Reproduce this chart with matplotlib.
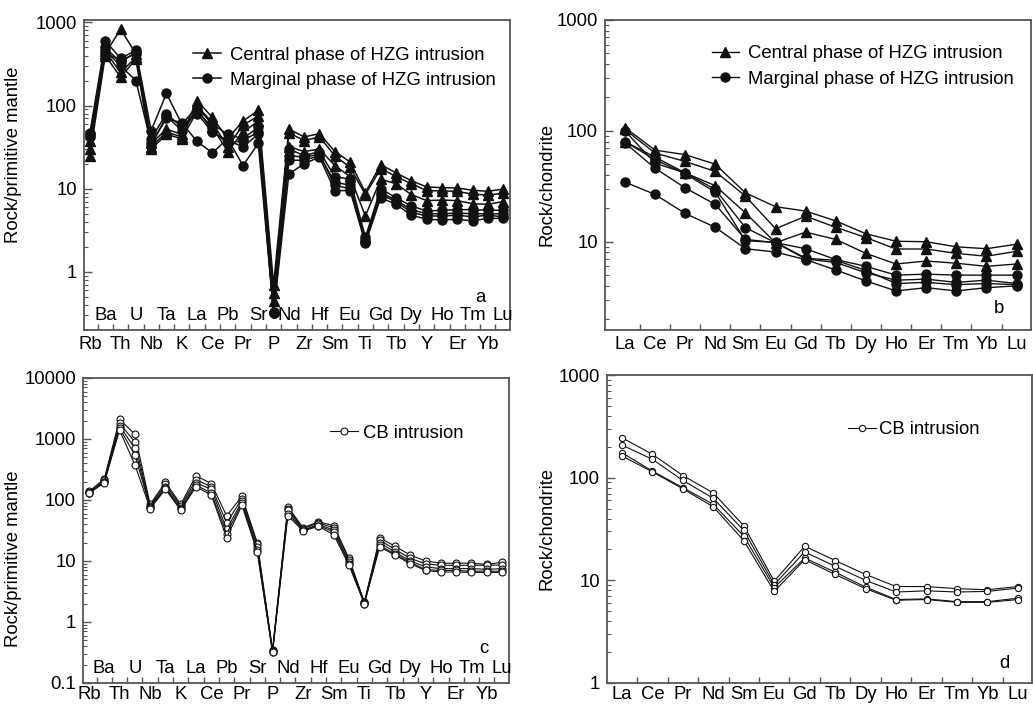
import matplotlib
matplotlib.use("Agg")
import matplotlib.pyplot as plt
from matplotlib.ticker import FixedLocator, NullFormatter, LogLocator

plt.rcParams['font.family'] = ['Liberation Sans', 'DejaVu Sans']
plt.rcParams['font.size'] = 13.3

# element order for the spider diagrams
spider_elems = ["Rb", "Ba", "Th", "U", "Nb", "Ta", "K", "La", "Ce", "Pb", "Pr", "Sr", "P", "Nd",
                "Zr", "Hf", "Sm", "Eu", "Ti", "Gd", "Tb", "Dy", "Y", "Ho", "Er", "Tm", "Yb", "Lu"]
ree_elems = ["La", "Ce", "Pr", "Nd", "Sm", "Eu", "Gd", "Tb", "Dy", "Ho", "Er", "Tm", "Yb", "Lu"]

# panel a - HZG, primitive mantle normalised
hzg_central_pm = [
    [37, 420, 830, 420, 35, 52, 45, 115, 72, 40, 65, 88, 0.70, 52, 42, 46, 28, 21, 9.0, 19.5, 15.5, 12.5, 10.5, 10.3, 10.2, 9.6, 9.3, 9.9],
    [30, 450, 250, 380, 32, 48, 42, 100, 62, 32, 58, 75, 0.55, 47, 38, 42, 25, 18, 8.5, 17.5, 14, 11.5, 9.5, 9.4, 9.3, 8.6, 8.4, 8.8],
    [25, 400, 220, 360, 30, 45, 40, 85, 55, 28, 48, 65, 0.45, 32, 28, 30, 19, 14, 4.7, 13, 11.5, 8.5, 7.2, 7.3, 7.2, 6.6, 6.5, 7.0],
]
hzg_marginal_pm = [
    [47, 600, 370, 460, 50, 140, 60, 95, 60, 45, 40, 55, 0.32, 30, 25, 28, 14, 13, 2.6, 10, 7.8, 6.2, 5.4, 5.5, 5.6, 5.6, 5.5, 5.5],
    [45, 500, 330, 440, 40, 80, 55, 80, 48, 38, 32, 45, 0.32, 22, 22, 25, 12, 11, 2.4, 9.0, 7.3, 5.6, 5.0, 5.0, 5.1, 5.0, 5.0, 5.0],
    [43, 460, 300, 200, 35, 70, 62, 37, 27, 40, 19, 35, 0.32, 15, 20, 24, 9.5, 9.5, 2.2, 7.8, 6.5, 4.8, 4.3, 4.2, 4.3, 4.1, 4.4, 4.4],
    [42, 430, 350, 420, 33, 75, 50, 90, 50, 35, 38, 48, 0.33, 25, 24, 26, 11, 10, 2.3, 8.5, 7.0, 5.2, 4.7, 4.7, 4.8, 4.6, 4.8, 4.6],
]

# panel b - HZG, chondrite normalised REE
hzg_central_ch = [
    [107, 67, 61, 50, 27.6, 20.7, 18.9, 15.4, 11.8, 10.1, 10.0, 9.0, 8.65, 9.5],
    [103, 63, 53, 43, 25.8, 13.1, 17, 13.5, 10.9, 8.6, 8.6, 7.85, 7.4, 8.2],
    [80, 58, 41.8, 32, 18.2, 9.8, 12.2, 10.5, 7.85, 6.3, 6.7, 6.4, 6.0, 6.3],
]
hzg_marginal_ch = [
    [100, 51, 41.8, 29.6, 13.4, 9.8, 8.65, 6.9, 6.0, 5.0, 5.1, 5.0, 5.0, 5.0],
    [78, 46, 30.6, 21.7, 10.5, 9.8, 7.0, 6.5, 5.25, 4.5, 4.6, 4.3, 4.5, 4.2],
    [34.5, 26.7, 18, 13.5, 8.65, 8.07, 6.9, 5.56, 4.43, 3.6, 3.85, 3.6, 3.85, 4.0],
    [80, 55, 41, 28, 10.2, 9.9, 7.1, 6.8, 5.5, 4.2, 4.3, 4.1, 4.2, 4.1],
]

# panel c - CB intrusion, primitive mantle normalised
cb_pm = [
    [138, 220, 2100, 1200, 85, 195, 85, 250, 185, 55, 115, 20, 0.35, 78, 35, 44, 38, 11, 2.1, 24, 17.5, 12.5, 10, 9.2, 9.2, 9.2, 8.8, 9.5],
    [135, 210, 1800, 900, 80, 180, 80, 215, 165, 42, 105, 19, 0.34, 72, 34, 42, 35, 10.5, 2.1, 22, 15.5, 11, 9.0, 8.5, 8.5, 8.5, 8.5, 8.6],
    [130, 200, 1650, 700, 78, 165, 75, 190, 150, 33, 95, 17, 0.33, 68, 32, 40, 32, 9.5, 2.05, 20, 14, 10, 8.0, 7.5, 7.5, 7.5, 7.3, 7.5],
    [128, 195, 1500, 550, 75, 155, 70, 175, 130, 28, 88, 15, 0.32, 60, 32, 38, 30, 9.0, 2.0, 18, 13, 9.5, 7.2, 7.0, 7.0, 6.8, 6.8, 6.8],
    [130, 190, 1400, 380, 72, 150, 68, 165, 120, 24, 82, 14, 0.32, 55, 31, 37, 27, 8.5, 2.0, 17, 12.5, 9.0, 7.0, 6.6, 6.6, 6.5, 6.5, 6.5],
]

# panel d - CB intrusion, chondrite normalised REE
cb_ch = [
    [245, 169, 105, 71, 34, 9.8, 21.5, 15.6, 11.4, 8.7, 8.7, 8.3, 8.1, 8.7],
    [208, 151, 94, 63, 30.6, 9.1, 18.9, 13.7, 10.0, 7.7, 7.9, 7.7, 7.8, 8.4],
    [175, 116, 80, 55, 27, 8.5, 16.5, 12.0, 8.6, 6.5, 6.6, 6.2, 6.2, 6.7],
    [163, 114, 78, 52, 24.4, 7.8, 15.9, 11.4, 8.3, 6.4, 6.5, 6.1, 6.1, 6.5],
]

fig = plt.figure(figsize=(10.33, 7.06), dpi=100)
ax_a = fig.add_axes([0.0813, 0.5326, 0.4124, 0.4391])
ax_b = fig.add_axes([0.5857, 0.5326, 0.4124, 0.4391])
ax_c = fig.add_axes([0.0803, 0.0326, 0.4124, 0.4320])
ax_d = fig.add_axes([0.5876, 0.0326, 0.4114, 0.4362])

spine_col = "#555555"


def style_axes(ax, elems, xlim, ylim, two_rows, ylabel, ylab_pos, letter, letter_pos, xpad=4):
    ax.set_yscale("log")
    ax.set_xlim(*xlim)
    ax.set_ylim(*ylim)
    for s in ax.spines.values():
        s.set_color(spine_col)
        s.set_linewidth(1.3)
    n = len(elems)
    xs = list(range(n))
    ax.set_xticks(xs)
    if two_rows:
        ax.set_xticklabels([e if i % 2 == 0 else "" for i, e in enumerate(elems)])
        for i, e in enumerate(elems):
            if i % 2 == 1:
                ax.text(i, 0.048, e, transform=ax.get_xaxis_transform(),
                        ha="center", va="center", fontsize=13.3)
    else:
        ax.set_xticklabels(elems)
    ax.tick_params(axis="x", which="major", length=0, pad=xpad)
    ax.xaxis.set_minor_locator(FixedLocator([i + 0.5 for i in range(n - 1)]))
    ax.tick_params(axis="x", which="minor", direction="in", length=4, color=spine_col, width=1)
    ax.yaxis.set_major_locator(LogLocator(base=10))
    ax.yaxis.set_minor_locator(LogLocator(base=10, subs=range(2, 10)))
    ax.yaxis.set_minor_formatter(NullFormatter())
    ax.yaxis.set_major_formatter(plt.FuncFormatter(lambda v, p: ("%g" % v)))
    ax.tick_params(axis="y", which="major", direction="in", length=6, width=1, color=spine_col, pad=5)
    ax.tick_params(axis="y", which="minor", direction="in", length=3, width=0.8, color=spine_col)
    ax.set_ylabel(ylabel, fontsize=13.3)
    ax.yaxis.set_label_coords(*ylab_pos)
    ax.text(letter_pos[0], letter_pos[1], letter, transform=ax.transAxes,
            ha="center", va="center", fontsize=13.3)


# panel a
for i, row in enumerate(hzg_central_pm):
    ax_a.plot(range(len(spider_elems)), row, color="#111111", lw=1.1, marker="^", ms=7.5,
              label="Central phase of HZG intrusion" if i == 0 else None)
for i, row in enumerate(hzg_marginal_pm):
    ax_a.plot(range(len(spider_elems)), row, color="#111111", lw=1.1, marker="o", ms=6.5,
              label="Marginal phase of HZG intrusion" if i == 0 else None)
style_axes(ax_a, spider_elems, (-0.39, 27.45), (0.2, 1070), True,
           "Rock/primitive mantle", (-0.146, 0.565), "a", (0.93, 0.106))
ax_a.legend(loc="upper left", bbox_to_anchor=(0.256, 0.914), frameon=False, borderpad=0,
            borderaxespad=0, handlelength=1.5, handletextpad=0.5, labelspacing=0.45, fontsize=13.3)

# panel b
for i, row in enumerate(hzg_central_ch):
    ax_b.plot(range(len(ree_elems)), row, color="#111111", lw=1.0, marker="^", ms=7.5,
              label="Central phase of HZG intrusion" if i == 0 else None)
for i, row in enumerate(hzg_marginal_ch):
    ax_b.plot(range(len(ree_elems)), row, color="#111111", lw=1.0, marker="o", ms=6.5,
              label="Marginal phase of HZG intrusion" if i == 0 else None)
style_axes(ax_b, ree_elems, (-0.66, 13.48), (1.6, 1000), False,
           "Rock/chondrite", (-0.117, 0.468), "b", (0.925, 0.07))
ax_b.legend(loc="upper left", bbox_to_anchor=(0.25, 0.918), frameon=False, borderpad=0,
            borderaxespad=0, handlelength=1.5, handletextpad=0.5, labelspacing=0.45, fontsize=13.3)

# panel c
for i, row in enumerate(cb_pm):
    ax_c.plot(range(len(spider_elems)), row, color="#111111", lw=0.8, marker="o", ms=5,
              mfc="white", mec="#111111", mew=0.8, label="CB intrusion" if i == 0 else None)
style_axes(ax_c, spider_elems, (-0.39, 27.45), (0.1, 10000), True,
           "Rock/primitive mantle", (-0.143, 0.408), "c", (0.94, 0.113), xpad=2)
ax_c.legend(loc="upper left", bbox_to_anchor=(0.58, 0.846), frameon=False, borderpad=0,
            borderaxespad=0, handlelength=1.5, handletextpad=0.3, fontsize=13.3)

# panel d
for i, row in enumerate(cb_ch):
    ax_d.plot(range(len(ree_elems)), row, color="#111111", lw=0.8, marker="o", ms=4.5,
              mfc="white", mec="#111111", mew=0.8, label="CB intrusion" if i == 0 else None)
style_axes(ax_d, ree_elems, (-0.49, 13.46), (1, 1000), False,
           "Rock/chondrite", (-0.122, 0.503), "d", (0.936, 0.064), xpad=2)
ax_d.legend(loc="upper left", bbox_to_anchor=(0.567, 0.85), frameon=False, borderpad=0,
            borderaxespad=0, handlelength=1.5, handletextpad=0.2, fontsize=13.3)

fig.savefig("out.png", dpi=100)
